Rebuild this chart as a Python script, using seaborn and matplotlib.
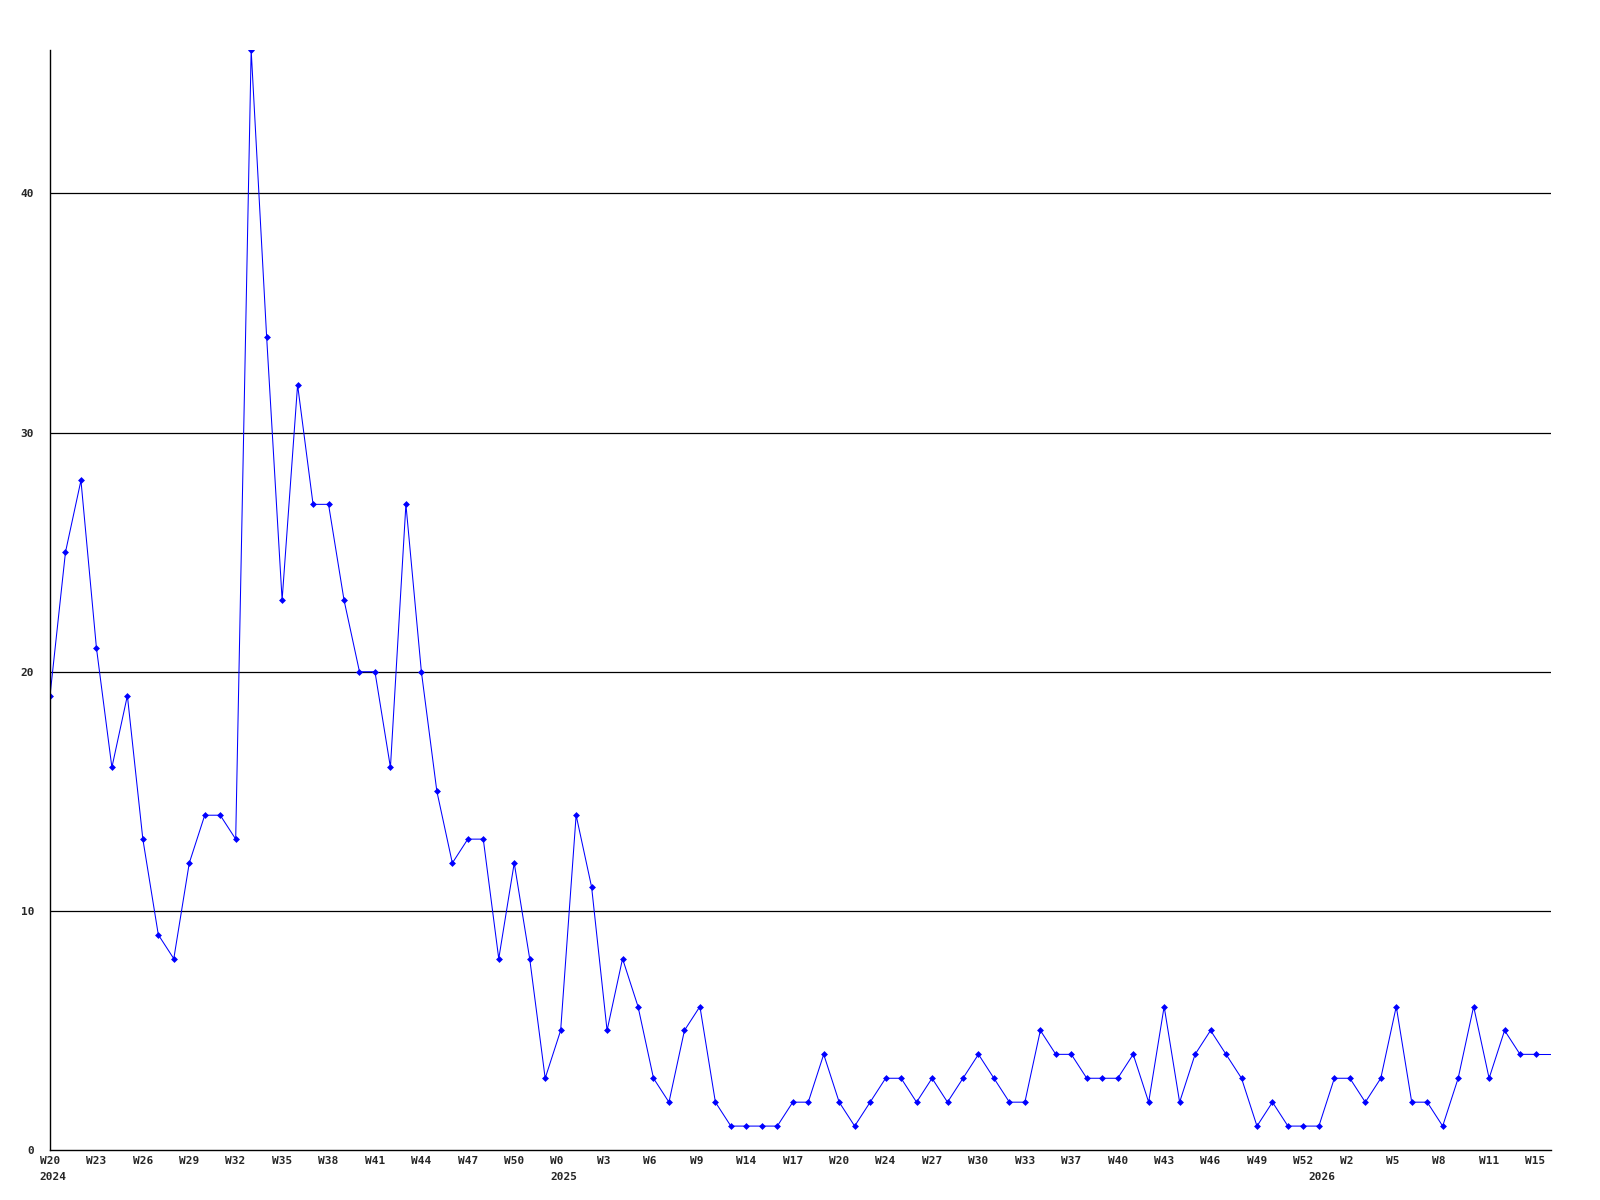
import pandas as pd
import matplotlib.pyplot as plt
import seaborn as sns
from matplotlib.transforms import ScaledTranslation

# weekly counts, one per week, starting W20 2024
counts = [19, 25, 28, 21, 16, 19, 13, 9, 8, 12, 14, 14, 13, 46, 34, 23, 32, 27, 27, 23,
          20, 20, 16, 27, 20, 15, 12, 13, 13, 8, 12, 8, 3, 5, 14, 11, 5, 8, 6, 3,
          2, 5, 6, 2, 1, 1, 1, 1, 2, 2, 4, 2, 1, 2, 3, 3, 2, 3, 2, 3,
          4, 3, 2, 2, 5, 4, 4, 3, 3, 3, 4, 2, 6, 2, 4, 5, 4, 3, 1, 2,
          1, 1, 1, 3, 3, 2, 3, 6, 2, 2, 1, 3, 6, 3, 5, 4, 4]
week_labels = ['W20', 'W23', 'W26', 'W29', 'W32', 'W35', 'W38', 'W41', 'W44', 'W47', 'W50',
               'W0', 'W3', 'W6', 'W9', 'W14', 'W17', 'W20', 'W24', 'W27', 'W30', 'W33',
               'W37', 'W40', 'W43', 'W46', 'W49', 'W52', 'W2', 'W5', 'W8', 'W11', 'W15']
years = ['2024', '2025', '2026']
year_weeks = [0, 33, 82]  # index of first week shown in each year

df = pd.DataFrame({'week': range(len(counts)), 'count': counts})

sns.set_style('white')
plt.rcParams['font.family'] = ['DejaVu Sans Mono']
plt.rcParams['font.weight'] = 'bold'

fig = plt.figure(figsize=(16, 12), dpi=100)
ax = fig.add_axes([50 / 1600, 50 / 1200, 1501 / 1600, 1100 / 1200])

sns.lineplot(data=df, x='week', y='count', ax=ax, color='#0000ff', linewidth=0.75,
             marker='D', markersize=3.5, markeredgewidth=0)
# line runs on flat to the edge after the last week
ax.hlines(counts[-1], len(counts) - 1, len(counts), color='#0000ff', linewidth=0.75)

ax.set_xlim(0, len(counts))
ax.set_ylim(0, max(counts))

for y in [10, 20, 30, 40]:
    ax.axhline(y, color='black', linewidth=0.9, zorder=0)

ax.set_yticks([0, 10, 20, 30, 40])
ax.set_yticklabels(['0', '10', '20', '30', '40'], fontsize=8, fontweight='bold')
ax.set_xticks(range(0, len(counts), 3))
ax.set_xticklabels(week_labels, fontsize=8, fontweight='bold')
ax.tick_params(axis='both', length=0)
ax.tick_params(axis='x', pad=4)
ax.tick_params(axis='y', pad=11.5)

shift = ScaledTranslation(-0.102, 0, fig.dpi_scale_trans)
for lab in ax.get_xticklabels():
    lab.set_horizontalalignment('left')
    lab.set_transform(lab.get_transform() + shift)

for yr, pos in zip(years, year_weeks):
    ax.annotate(yr, xy=(pos, 0), xycoords=('data', 'axes fraction'),
                xytext=(-7.3, -15.5), textcoords='offset points',
                ha='left', va='top', fontsize=8, fontweight='bold')

ax.set_xlabel('')
ax.set_ylabel('')
sns.despine(ax=ax, top=True, right=True)
for s in ['left', 'bottom']:
    ax.spines[s].set_color('black')
    ax.spines[s].set_linewidth(1)

fig.savefig('out.png', dpi=100)
